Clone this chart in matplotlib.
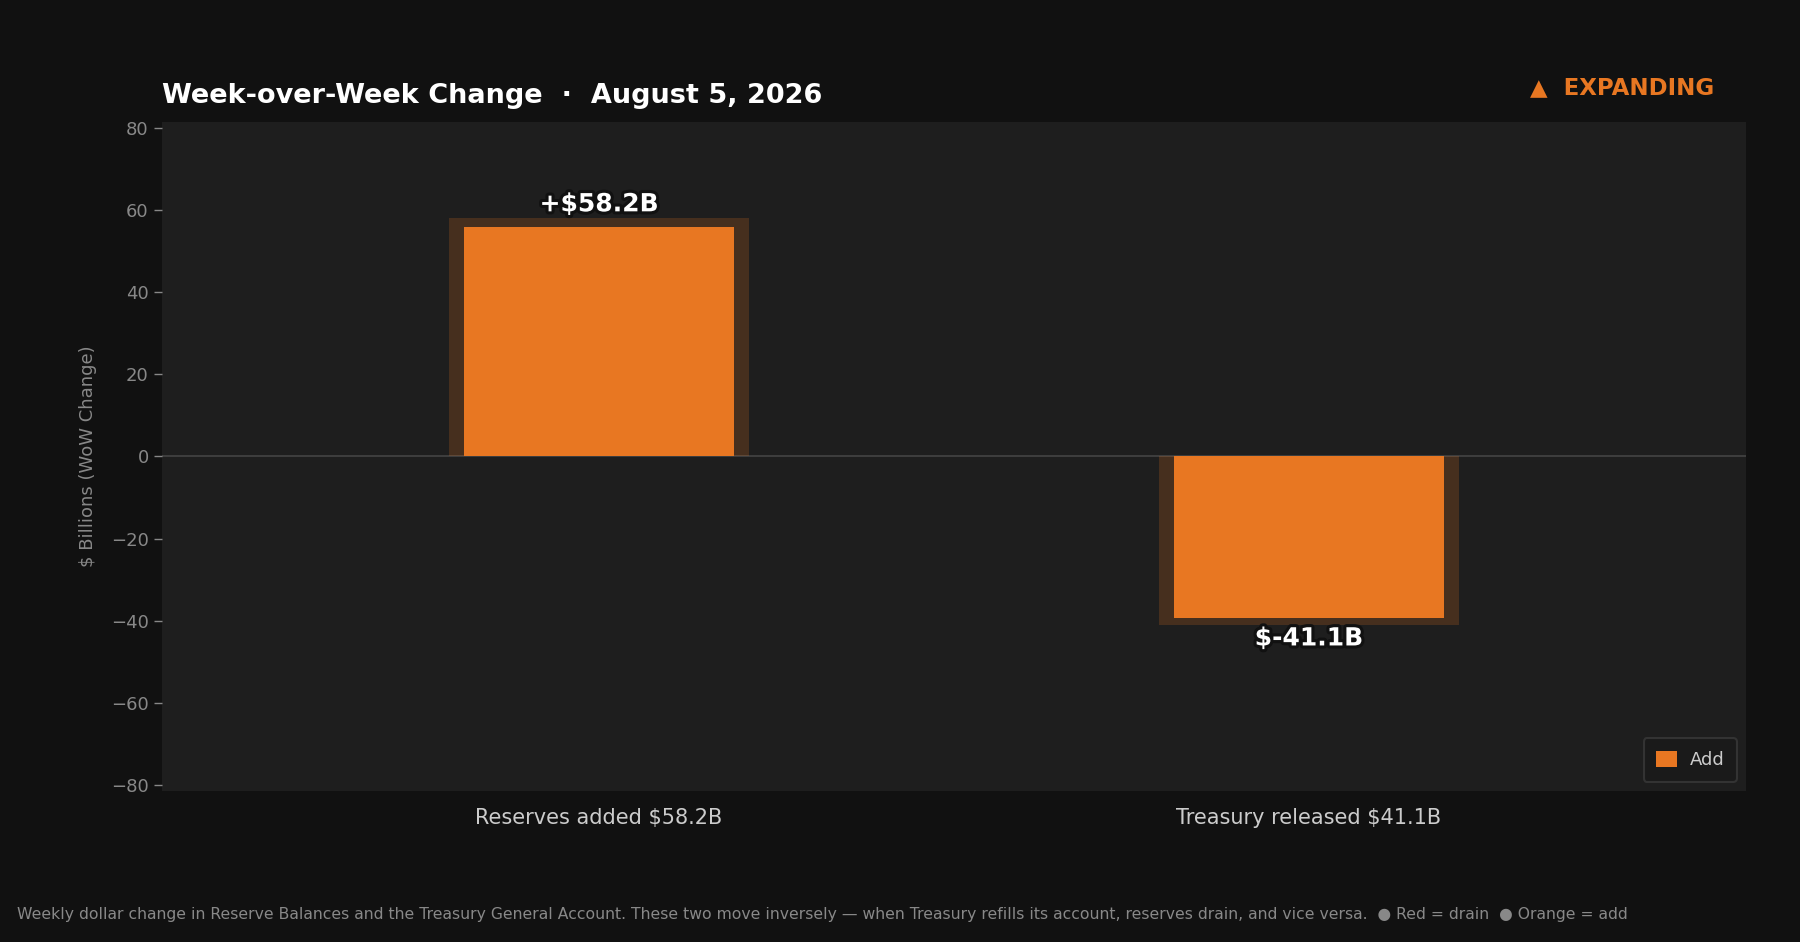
import numpy as np
import matplotlib.pyplot as plt
import matplotlib.patheffects as pe

# data
categories = ['Reserves added $58.2B', 'Treasury released $41.1B']
values = [58.2, -41.1]
value_labels = ['+$58.2B', '$-41.1B']
legend_label = 'Add'
title = 'Week-over-Week Change  \u00b7  August 5, 2026'
status = '\u25b2  EXPANDING'
footnote = ('Weekly dollar change in Reserve Balances and the Treasury General Account. '
            'These two move inversely \u2014 when Treasury refills its account, reserves drain, '
            'and vice versa.  \u25cf Red = drain  \u25cf Orange = add')

ORANGE = '#E87722'
FIG_BG = '#111111'
AX_BG = '#1E1E1E'

fig = plt.figure(figsize=(18, 9.42), dpi=100, facecolor=FIG_BG)
ax = fig.add_axes([0.09, 0.1603, 0.88, 0.7102])
ax.set_facecolor(AX_BG)

x = np.arange(len(categories))
# glow behind each bar
ax.bar(x, values, width=0.4225, color=ORANGE, alpha=0.2, linewidth=0, zorder=2)
ax.bar(x, np.array(values) * 0.96, width=0.38, color=ORANGE, linewidth=0,
       label=legend_label, zorder=3)

ax.axhline(0, color='#444444', linewidth=1.2, zorder=1)

stroke = [pe.withStroke(linewidth=4.5, foreground='#111111')]
for xi, v, lab in zip(x, values, value_labels):
    ax.text(xi, v + (0.3 if v > 0 else -0.3), lab, ha='center',
            va='bottom' if v > 0 else 'top', fontsize=18, fontweight='bold',
            color='white', path_effects=stroke, zorder=5)

lim = max(abs(v) for v in values) * 1.4
ax.set_ylim(-lim, lim)
ax.set_xlim(-0.6155, 1.6155)
ax.set_yticks(np.arange(-80, 81, 20))
ax.set_xticks(x)
ax.set_xticklabels(categories, fontsize=15, color='#CCCCCC')
ax.tick_params(axis='x', length=0, pad=12)
ax.tick_params(axis='y', colors='#888888', labelsize=13, length=6, width=1)
ax.set_ylabel('$ Billions (WoW Change)', color='#888888', fontsize=13, labelpad=10)
for s in ax.spines.values():
    s.set_visible(False)

ax.set_title(title, loc='left', fontsize=19.5, fontweight='bold', color='white', pad=14)
fig.text(1714 / 1800, 1 - 88 / 942, status, ha='right', va='center', fontsize=16.5,
         fontweight='bold', color=ORANGE)

leg = ax.legend(loc='lower right', fontsize=13, facecolor='#1A1A1A', edgecolor='#333333',
                labelcolor='#CCCCCC', framealpha=1, borderpad=0.7,
                handlelength=1.15, handleheight=1.0, handletextpad=0.7)
leg.get_frame().set_linewidth(1.5)

fig.text(17 / 1800, 1 - 914 / 942, footnote, ha='left', va='center', fontsize=11.27,
         color='#888888')

fig.savefig('out.png', dpi=100, facecolor=FIG_BG)
